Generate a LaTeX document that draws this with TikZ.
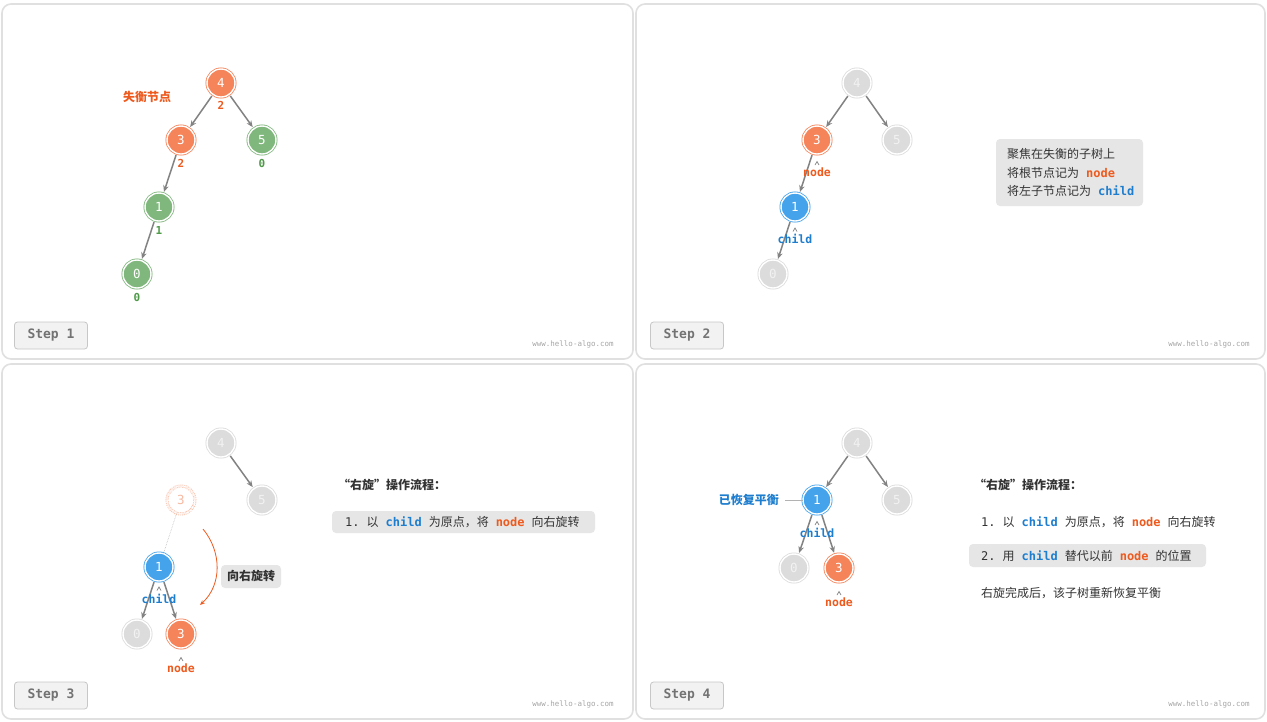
\documentclass[tikz,border=0pt]{standalone}
\usepackage{fontspec}
\setmainfont{Noto Sans CJK SC}
\newfontfamily\code{DejaVu Sans Mono}
\usetikzlibrary{arrows.meta}
\definecolor{orF}{HTML}{F5845A}
\definecolor{orT}{HTML}{EE5A1E}
\definecolor{orL}{HTML}{F8B9A0}
\definecolor{grF}{HTML}{80B77D}
\definecolor{grT}{HTML}{4F9A49}
\definecolor{blF}{HTML}{45A3EC}
\definecolor{blT}{HTML}{1D7DCE}
\definecolor{gyF}{HTML}{DCDCDC}
\definecolor{edgeC}{HTML}{828282}
\definecolor{boxC}{HTML}{E6E6E6}
\definecolor{txt}{HTML}{333333}
\tikzset{
  panel/.style={draw=black!12, line width=1.6pt, fill=white, rounded corners=9pt},
  tn/.style={circle, minimum size=28pt, inner sep=0pt, font=\code\fontsize{12.5}{12.5}\selectfont,
    text=white, line width=0.8pt, double=white, double distance=1.4pt},
  onode/.style={tn, fill=orF, draw=orF},
  gnode/.style={tn, fill=grF, draw=grF},
  bnode/.style={tn, fill=blF, draw=blF},
  xnode/.style={tn, fill=gyF, draw=gyF, text=white!95!black},
  ghost/.style={tn, fill=white, draw=orL, text=orL, densely dotted},
  edge/.style={draw=edgeC, line width=1.5pt, -{Stealth[length=6.5pt,width=5.5pt]}, shorten >=1.5pt, shorten <=1.5pt},
  bfo/.style={font=\code\bfseries\fontsize{11}{11}\selectfont, text=orT, inner sep=0pt},
  bfg/.style={font=\code\bfseries\fontsize{11}{11}\selectfont, text=grT, inner sep=0pt},
  lbo/.style={font=\code\bfseries\fontsize{11.5}{11.5}\selectfont, text=orT, inner sep=0pt},
  lbb/.style={font=\code\bfseries\fontsize{11.5}{11.5}\selectfont, text=blT, inner sep=0pt},
  caret/.style={draw=edgeC, line width=0.7pt},
  cn/.style={font=\fontsize{12}{12}\selectfont, text=txt, inner sep=0pt, anchor=west},
  cnb/.style={font=\bfseries\fontsize{12}{12}\selectfont, text=txt, inner sep=0pt},
  gbox/.style={fill=boxC, rounded corners=4pt},
  stepbox/.style={draw=black!22, fill=black!5, line width=0.8pt, rounded corners=3pt,
    minimum width=73pt, minimum height=27pt, font=\code\bfseries\fontsize{13}{13}\selectfont, text=black!55},
  wm/.style={font=\code\fontsize{7.5}{7.5}\selectfont, text=black!35, inner sep=0pt}
}
\newcommand{\cw}[2]{\hskip 7pt{\code\bfseries\color{#1}#2}\hskip 7pt}
\newcommand{\gp}{\hskip 7pt}
\begin{document}
\begin{tikzpicture}[x=1pt,y=-1pt]
\useasboundingbox[fill=white] (0,0) rectangle (1267,721);
% panels
\draw[panel] (2,4) rectangle (633,359);
\draw[panel] (636,4) rectangle (1265,359);
\draw[panel] (2,364) rectangle (633,719);
\draw[panel] (636,364) rectangle (1265,719);
% step labels and watermarks
\node[stepbox] (s1) at (51,335.5) {Step 1};
\node[stepbox] (s2) at (687,335.5) {Step 2};
\node[stepbox] (s3) at (51,695.5) {Step 3};
\node[stepbox] (s4) at (687,695.5) {Step 4};
\node[wm] (w1) at (573,344) {www.hello-algo.com};
\node[wm] (w2) at (1209,344) {www.hello-algo.com};
\node[wm] (w3) at (573,704) {www.hello-algo.com};
\node[wm] (w4) at (1209,704) {www.hello-algo.com};

% ---------- Panel 1 ----------
\node[onode] (a4) at (221,83) {4};
\node[onode] (a3) at (181,140) {3};
\node[gnode] (a5) at (262,140) {5};
\node[gnode] (a1) at (159,207) {1};
\node[gnode] (a0) at (137,274) {0};
\draw[edge] (a4) -- (a3);
\draw[edge] (a4) -- (a5);
\draw[edge] (a3) -- (a1);
\draw[edge] (a1) -- (a0);
\node[bfo] (f4) at (221,105) {2};
\node[bfo] (f3) at (181,163) {2};
\node[bfg] (f5) at (262,163) {0};
\node[bfg] (f1) at (159,230) {1};
\node[bfg] (f0) at (137,297) {0};
\node[font=\bfseries\fontsize{12}{12}\selectfont, text=orT, inner sep=0pt] (imb) at (147,97) {失衡节点};

% ---------- Panel 2 ----------
\node[xnode] (b4) at (857,83) {4};
\node[onode] (b3) at (817,140) {3};
\node[xnode] (b5) at (897,140) {5};
\node[bnode] (b1) at (795,207) {1};
\node[xnode] (b0) at (773,274) {0};
\draw[edge] (b4) -- (b3);
\draw[edge] (b4) -- (b5);
\draw[edge] (b3) -- (b1);
\draw[edge] (b1) -- (b0);
\draw[caret] (815,165) -- (817,161.5) -- (819,165);
\node[lbo] (bn) at (817,172.5) {node};
\draw[caret] (793,231.5) -- (795,228) -- (797,231.5);
\node[lbb] (bc) at (795,239) {child};
\fill[gbox] (996,139) rectangle (1143,206);
\node[cn] (t21) at (1007,154) {聚焦在失衡的子树上};
\node[cn] (t22) at (1007,172.5) {将根节点记为\cw{orT}{node}};
\node[cn] (t23) at (1007,191) {将左子节点记为\cw{blT}{child}};

% ---------- Panel 3 ----------
\node[xnode] (c4) at (221,443) {4};
\node[xnode] (c5) at (262,500) {5};
\node[ghost] (c3g) at (181,500) {3};
\node[bnode] (c1) at (159,567) {1};
\node[xnode] (c0) at (137,634) {0};
\node[onode] (c3) at (181,634) {3};
\draw[edge] (c4) -- (c5);
\draw[draw=black!25, line width=0.6pt, densely dotted] (c3g) -- (c1);
\draw[edge] (c1) -- (c0);
\draw[edge] (c1) -- (c3);
\draw[caret] (157,590.5) -- (159,587) -- (161,590.5);
\node[lbb] (cc) at (159,599) {child};
\draw[caret] (179,661) -- (181,657.5) -- (183,661);
\node[lbo] (cnl) at (181,668) {node};
\coordinate (arcS) at (203,529);
\coordinate (arcE) at (200,605);
\draw[draw=orT, line width=0.8pt, -{Stealth[length=5pt,width=4pt]}] (arcS) .. controls (222,552) and (222,585) .. (arcE);
\fill[gbox] (221,565) rectangle (281,588);
\node[cnb] (rot) at (251,576) {向右旋转};
\node[cnb, anchor=west] (h3) at (338,485) {“右旋”操作流程：};
\fill[gbox] (332,511) rectangle (595,533);
\node[cn] (l31) at (345,522) {{\code 1.}\gp 以\cw{blT}{child}为原点，将\cw{orT}{node}向右旋转};

% ---------- Panel 4 ----------
\node[xnode] (d4) at (857,443) {4};
\node[bnode] (d1) at (817,500) {1};
\node[xnode] (d5) at (897,500) {5};
\node[xnode] (d0) at (794,568) {0};
\node[onode] (d3) at (839,568) {3};
\draw[edge] (d4) -- (d1);
\draw[edge] (d4) -- (d5);
\draw[edge] (d1) -- (d0);
\draw[edge] (d1) -- (d3);
\draw[caret] (815,525) -- (817,521.5) -- (819,525);
\node[lbb] (dc) at (817,533) {child};
\draw[caret] (837,595) -- (839,591.5) -- (841,595);
\node[lbo] (dn) at (839,602) {node};
\node[font=\bfseries\fontsize{12}{12}\selectfont, text=blT, inner sep=0pt, anchor=east] (bal) at (779,500) {已恢复平衡};
\draw[draw=black!30, line width=0.8pt] (bal.east) ++(6,0) coordinate (lnS) (lnS) -- (d1);
\node[cnb, anchor=west] (h4) at (974,485) {“右旋”操作流程：};
\node[cn] (l41) at (981,522) {{\code 1.}\gp 以\cw{blT}{child}为原点，将\cw{orT}{node}向右旋转};
\fill[gbox] (969,544) rectangle (1206,567);
\node[cn] (l42) at (981,555.5) {{\code 2.}\gp 用\cw{blT}{child}替代以前\cw{orT}{node}的位置};
\node[cn] (l43) at (981,593) {右旋完成后，该子树重新恢复平衡};
\end{tikzpicture}
\end{document}
